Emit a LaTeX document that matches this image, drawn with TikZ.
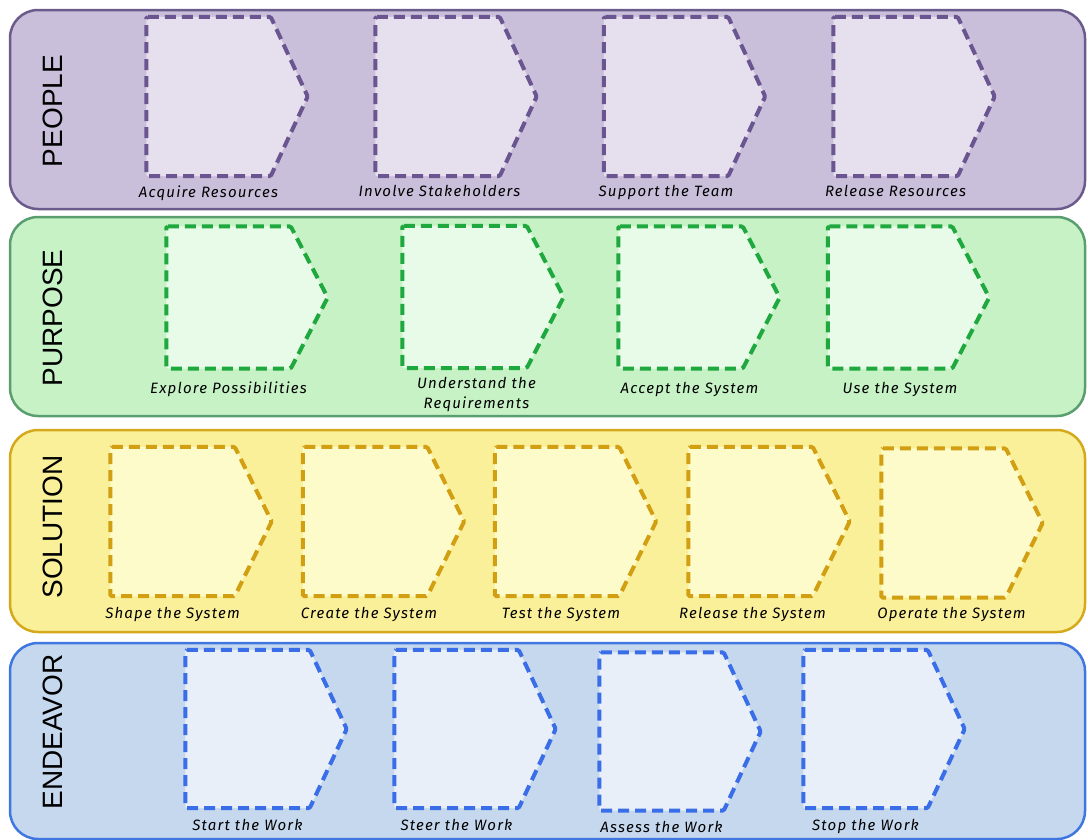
\documentclass[tikz,border=0pt]{standalone}
\usepackage{fontspec}
\setmainfont{Liberation Sans}
\newfontfamily\tagfont[LetterSpace=8]{Fira Sans}
\usepackage{tikz}
\usetikzlibrary{positioning}
\definecolor{peopleBand}{HTML}{C9BFDA}
\definecolor{peopleLine}{HTML}{6B5A8C}
\definecolor{peopleBox}{HTML}{E6E0EE}
\definecolor{peopleDash}{HTML}{6A5590}
\definecolor{purposeBand}{HTML}{C6F2C6}
\definecolor{purposeLine}{HTML}{5A9E70}
\definecolor{purposeBox}{HTML}{E8FAE8}
\definecolor{purposeDash}{HTML}{1EA83E}
\definecolor{solutionBand}{HTML}{FAF09A}
\definecolor{solutionLine}{HTML}{D6A81C}
\definecolor{solutionBox}{HTML}{FDFBCA}
\definecolor{solutionDash}{HTML}{D29E12}
\definecolor{endeavorBand}{HTML}{C6D8EE}
\definecolor{endeavorLine}{HTML}{3F76E0}
\definecolor{endeavorBox}{HTML}{E9EFF8}
\definecolor{endeavorDash}{HTML}{3A6EE8}

\begin{document}
\begin{tikzpicture}[x=1pt,y=-1pt,node distance=8pt,
  band/.style={draw,line width=2.5pt,rounded corners=28pt,minimum width=1075pt,inner sep=0pt},
  title/.style={rotate=90,font=\fontsize{28}{28}\selectfont,text height=20pt,text depth=0pt,inner sep=0pt},
  box/.style={minimum width=124pt,inner sep=0pt},
  flag/.style={line width=4pt,dash pattern=on 11pt off 6pt,rounded corners=1.5pt},
  tag/.style={font=\tagfont\itshape\fontsize{15}{20}\selectfont,inner sep=0pt,align=center}]
\useasboundingbox (0,0) rectangle (1088,839);
\node[band,fill=peopleBand,draw=peopleLine,minimum height=199pt] (people) at (547.5,109.5) {};
\node[band,fill=purposeBand,draw=purposeLine,minimum height=199pt] (purpose) at (547.5,316.5) {};
\node[band,fill=solutionBand,draw=solutionLine,minimum height=202pt] (solution) at (547.5,531) {};
\node[band,fill=endeavorBand,draw=endeavorLine,minimum height=196pt] (endeavor) at (547.5,741) {};
\node[title] (peopletitle) at (52,111) {PEOPLE};
\node[title] (purposetitle) at (52,318) {PURPOSE};
\node[title] (solutiontitle) at (52,527) {SOLUTION};
\node[title] (endeavortitle) at (52,732) {ENDEAVOR};
\node[box,minimum height=159pt] (acq) at (208.5,96.5) {};
\node[box,minimum height=159pt] (inv) at (437.5,96.5) {};
\node[box,minimum height=159pt] (sup) at (666,96.5) {};
\node[box,minimum height=159pt] (rel) at (895.5,96.5) {};
\foreach \n in {acq,inv,sup,rel}
  \draw[flag,draw=peopleDash,fill=peopleBox] (\n.north west) -- (\n.north east) -- ([xshift=37pt]\n.east) -- (\n.south east) -- (\n.south west) -- cycle;
\node[tag,below=9pt of acq] (acqtag) {Acquire Resources};
\node[tag,below=9pt of inv,xshift=2pt] (invtag) {Involve Stakeholders};
\node[tag,below=9pt of sup] (suptag) {Support the Team};
\node[tag,below=9pt of rel] (reltag) {Release Resources};
\node[box,minimum height=142pt] (exp) at (228.5,297.5) {};
\node[box,minimum height=142pt] (und) at (464.5,297) {};
\node[box,minimum height=142pt] (acc) at (680.5,297.5) {};
\node[box,minimum height=142pt] (use) at (890,297.5) {};
\foreach \n in {exp,und,acc,use}
  \draw[flag,draw=purposeDash,fill=purposeBox] (\n.north west) -- (\n.north east) -- ([xshift=37pt]\n.east) -- (\n.south east) -- (\n.south west) -- cycle;
\node[tag,below=13pt of exp] (exptag) {Explore Possibilities};
\node[tag,below=9pt of und,xshift=12pt] (undtag) {Understand the\\Requirements};
\node[tag,below=13pt of acc,xshift=9pt] (acctag) {Accept the System};
\node[tag,below=13pt of use,xshift=10pt] (usetag) {Use the System};
\node[box,minimum height=149pt] (shp) at (172.5,521.5) {};
\node[box,minimum height=149pt] (cre) at (365,521.5) {};
\node[box,minimum height=149pt] (tst) at (557,521.5) {};
\node[box,minimum height=149pt] (rls) at (750.5,521.5) {};
\node[box,minimum height=149pt] (opr) at (943.5,523) {};
\foreach \n in {shp,cre,tst,rls,opr}
  \draw[flag,draw=solutionDash,fill=solutionBox] (\n.north west) -- (\n.north east) -- ([xshift=37pt]\n.east) -- (\n.south east) -- (\n.south west) -- cycle;
\node[tag,below=11pt of shp] (shptag) {Shape the System};
\node[tag,below=11pt of cre,xshift=4pt] (cretag) {Create the System};
\node[tag,below=11pt of tst,xshift=4pt] (tsttag) {Test the System};
\node[tag,below=11pt of rls,xshift=2pt] (rlstag) {Release the System};
\node[tag,below=9pt of opr,xshift=8pt] (oprtag) {Operate the System};
\node[box,minimum height=158pt] (sta) at (247.5,729) {};
\node[box,minimum height=158pt] (ste) at (456.5,729) {};
\node[box,minimum height=158pt] (ass) at (661.5,731.5) {};
\node[box,minimum height=158pt] (stp) at (865.5,729) {};
\foreach \n in {sta,ste,ass,stp}
  \draw[flag,draw=endeavorDash,fill=endeavorBox] (\n.north west) -- (\n.north east) -- ([xshift=37pt]\n.east) -- (\n.south east) -- (\n.south west) -- cycle;
\node[tag,below=11pt of sta] (statag) {Start the Work};
\node[tag,below=11pt of ste] (stetag) {Steer the Work};
\node[tag,below=10pt of ass] (asstag) {Assess the Work};
\node[tag,below=11pt of stp] (stptag) {Stop the Work};
\end{tikzpicture}
\end{document}
